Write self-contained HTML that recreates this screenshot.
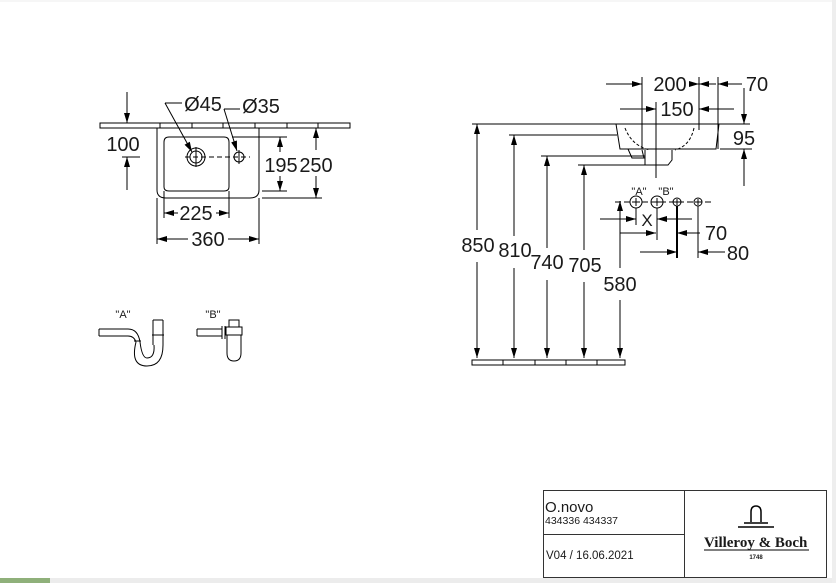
<!DOCTYPE html>
<html><head><meta charset="utf-8"><style>
html,body{margin:0;padding:0;background:#fff;}
svg{display:block;}
text{font-family:"Liberation Sans",sans-serif;fill:#1a1a1a;}
</style></head><body>
<svg width="836" height="583" viewBox="0 0 836 583" xmlns="http://www.w3.org/2000/svg">
<defs>
<marker id="a" viewBox="0 0 10 6" refX="10" refY="3" markerWidth="11" markerHeight="6" markerUnits="userSpaceOnUse" orient="auto"><path d="M0,0L10,3L0,6z" fill="#000"/></marker>
</defs>
<rect x="0" y="0" width="836" height="2" fill="#f6f6f6"/>
<rect x="0" y="578" width="836" height="5" fill="#ececec"/>
<rect x="0" y="578" width="50" height="5" fill="#8fb07a"/>
<rect x="832" y="0" width="4" height="583" fill="#eeeeee"/>

<g stroke="#000" stroke-width="1" fill="none">
<path d="M100,123H350V128H100z"/>
<path d="M160,123v5M192,123v5M223,123v5M255,123v5M287,123v5M318,123v5"/>
<path d="M157,128V190Q157,198 166,198H250Q259,198 259,190V128"/>
<path d="M164,142Q164,137 169,137H224Q229,137 229,142V187Q229,191 224,191H169Q164,191 164,187z"/>
<circle cx="196" cy="157" r="9"/><circle cx="196" cy="157" r="6"/>
<circle cx="239" cy="157" r="5"/>
<path d="M185,157H250" stroke-dasharray="5,3"/>
<path d="M196,147v20M239,150v14"/>
<path d="M165,103H182"/><path d="M165,103L192,152" marker-end="url(#a)"/>
<path d="M224,109H240"/><path d="M224,109L237,151" marker-end="url(#a)"/>
<path d="M127,92V123" marker-end="url(#a)"/><path d="M127,190V157" marker-end="url(#a)"/>
<path d="M122,157H140"/>
<path d="M232,137H287M262,191H287M262,198H322"/>
<path d="M280,152V137" marker-end="url(#a)"/><path d="M280,176V191" marker-end="url(#a)"/>
<path d="M316,150V128" marker-end="url(#a)"/><path d="M316,176V198" marker-end="url(#a)"/>
<path d="M164,191V218M229,191V218M157,198V244M259,198V244"/>
<path d="M178,213H164" marker-end="url(#a)"/><path d="M216,213H229" marker-end="url(#a)"/>
<path d="M188,239H157" marker-end="url(#a)"/><path d="M228,239H259" marker-end="url(#a)"/>

<path d="M99,329H128M99,336H128M99,329V336"/>
<path d="M128,329Q138,329 140,342M128,336Q134,336 136,342"/>
<path d="M136,342Q130,366 147,366Q163,366 163,345M140,342Q142,358 147,358Q155,358 154,345"/>
<path d="M153,320V345M163,320V345M153,320H163M152,335H164M134,341H141"/>
<path d="M197,329H222M197,336H222M197,329V336M222,326V339M225,326V339"/>
<path d="M229,320H239V327H229zM226,327H242V335H226z"/>
<path d="M227,335V353Q227,361 234,361Q241,361 241,353V335"/>

<path d="M472,360H625V365H472z"/>
<path d="M503,360v5M535,360v5M566,360v5M597,360v5"/>
<path d="M472,124H750M509,135H617M541,156H645M578,165H645"/>
<path d="M616,124L620,149H716L719,124"/>
<path d="M625,128Q632,146 650,150M694,128Q690,146 675,150" stroke-dasharray="3,2"/>
<path d="M628,149L632,158H644L642,150M645,150V165H668L672,160V150"/>
<path d="M477,230V124" marker-end="url(#a)"/><path d="M477,262V358" marker-end="url(#a)"/>
<path d="M514,236V135" marker-end="url(#a)"/><path d="M514,268V358" marker-end="url(#a)"/>
<path d="M547,248V156" marker-end="url(#a)"/><path d="M547,280V358" marker-end="url(#a)"/>
<path d="M584,250V165" marker-end="url(#a)"/><path d="M584,282V358" marker-end="url(#a)"/>
<path d="M620,268V201" marker-end="url(#a)"/><path d="M620,300V358" marker-end="url(#a)"/>
<path d="M615,202H712" stroke-dasharray="6,3"/>
<path d="M642,77V149M656,102V178M699,77V124M718,77V149M699,119V130"/>
<path d="M606,84H642" marker-end="url(#a)"/><path d="M689,84H699" marker-end="url(#a)"/>
<path d="M716,84H699" marker-end="url(#a)"/><path d="M742,84H718" marker-end="url(#a)"/>
<path d="M620,109H656" marker-end="url(#a)"/><path d="M734,109H699" marker-end="url(#a)"/>
<path d="M744,88V124" marker-end="url(#a)"/><path d="M744,186V149" marker-end="url(#a)"/>
<path d="M720,149H752"/>
<circle cx="636" cy="202" r="6"/><circle cx="657" cy="202" r="6"/>
<circle cx="677" cy="202" r="4"/><circle cx="698" cy="202" r="4"/>
<path d="M632,202h8M636,198v8M653,202h8M657,198v8M674,202h6M677,199v6M695,202h6M698,199v6"/>
<path d="M636,208V225M657,208V240M698,206V258"/>
<path d="M677,206V258" stroke-width="2"/>
<path d="M600,219H636" marker-end="url(#a)"/><path d="M692,219H657" marker-end="url(#a)"/>
<path d="M620,233H656" marker-end="url(#a)"/><path d="M700,233H677" marker-end="url(#a)"/>
<path d="M640,252H677" marker-end="url(#a)"/><path d="M725,252H698" marker-end="url(#a)"/>
</g>

<g font-size="20" text-anchor="middle">
<text x="203" y="111">Ø45</text>
<text x="261" y="113">Ø35</text>
<text x="123" y="151">100</text>
<text x="281" y="172">195</text>
<text x="316" y="172">250</text>
<text x="196" y="220">225</text>
<text x="208" y="246">360</text>
<text x="478" y="252">850</text>
<text x="515" y="257">810</text>
<text x="547" y="269">740</text>
<text x="585" y="272">705</text>
<text x="620" y="291">580</text>
<text x="670" y="91">200</text>
<text x="757" y="91">70</text>
<text x="677" y="116">150</text>
<text x="744" y="145">95</text>
<text x="647" y="226" font-size="17">X</text>
<text x="716" y="240">70</text>
<text x="738" y="260">80</text>
</g>
<g font-size="11" fill="#234" text-anchor="middle">
<text x="639" y="195">"A"</text><text x="666" y="195">"B"</text>
<text x="123" y="318">"A"</text><text x="213" y="318">"B"</text>
</g>

<g stroke="#333" stroke-width="1" fill="none">
<rect x="543.5" y="490.5" width="283" height="87"/>
<path d="M684.5,490.5V577.5M543.5,534.5H684.5"/>
</g>
<text x="545" y="512" font-size="15">O.novo</text>
<text x="545" y="524" font-size="10.5">434336 434337</text>
<text x="546" y="559" font-size="11.5">V04 / 16.06.2021</text>
<g stroke="#000" fill="none" stroke-width="1.5">
<path d="M751,522V512Q751,506 756,506Q761,506 761,512V522"/>
<path d="M744,523H768M738,527H774"/>
</g>
<text x="704" y="547" font-weight="bold" font-size="15" style="font-family:'Liberation Serif',serif">Villeroy &amp; Boch</text>
<line x1="704" y1="550" x2="809" y2="550" stroke="#000" stroke-width="1"/>
<text x="756" y="559" font-size="6" font-weight="bold" text-anchor="middle">1748</text>
</svg>
</body></html>
